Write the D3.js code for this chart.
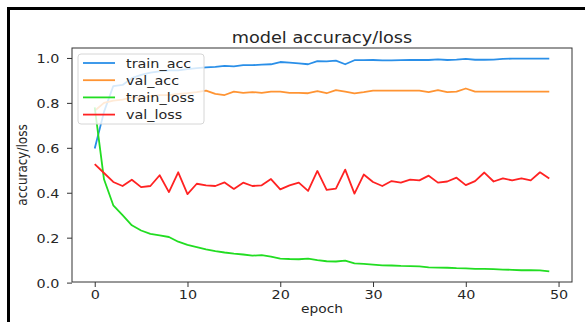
<!DOCTYPE html>
<html>
<head>
<meta charset="utf-8">
<script src="https://cdn.jsdelivr.net/npm/d3@7"></script>
<style>
body { margin: 0; background: #fff; }
text { font-family: "DejaVu Sans", sans-serif; fill: #262626; }
</style>
</head>
<body>
<script>
var seriesNames = ["train_acc", "val_acc", "train_loss", "val_loss"];
var seriesColors = ["#2a8fe8", "#ff9433", "#22dd22", "#ff2222"];

var trainAcc = [0.597, 0.76, 0.875, 0.88, 0.91, 0.925, 0.935, 0.94, 0.945, 0.945,
	0.95, 0.955, 0.958, 0.96, 0.965, 0.963, 0.968, 0.968, 0.97, 0.972,
	0.982, 0.979, 0.976, 0.972, 0.986, 0.985, 0.988, 0.972, 0.99, 0.99,
	0.991, 0.989, 0.989, 0.99, 0.991, 0.991, 0.991, 0.994, 0.991, 0.993,
	0.996, 0.992, 0.992, 0.993, 0.996, 0.997, 0.997, 0.997, 0.997, 0.997];
var valAcc = [0.765, 0.8, 0.81, 0.815, 0.825, 0.82, 0.83, 0.835, 0.835, 0.84,
	0.843, 0.848, 0.855, 0.84, 0.835, 0.85, 0.845, 0.848, 0.845, 0.85,
	0.85, 0.845, 0.845, 0.843, 0.852, 0.843, 0.857, 0.85, 0.842, 0.848,
	0.855, 0.855, 0.855, 0.855, 0.855, 0.855, 0.848, 0.857, 0.848, 0.85,
	0.864, 0.85, 0.85, 0.85, 0.85, 0.85, 0.85, 0.85, 0.85, 0.85];
var trainLoss = [0.78, 0.46, 0.344, 0.3, 0.255, 0.232, 0.217, 0.21, 0.203, 0.182,
	0.168, 0.158, 0.148, 0.14, 0.134, 0.129, 0.125, 0.12, 0.122, 0.116,
	0.107, 0.105, 0.104, 0.107, 0.1, 0.095, 0.094, 0.098, 0.086, 0.083,
	0.08, 0.077, 0.076, 0.074, 0.073, 0.072, 0.068, 0.067, 0.066, 0.064,
	0.063, 0.061, 0.061, 0.06, 0.058, 0.057, 0.055, 0.055, 0.054, 0.05];
var valLoss = [0.527, 0.488, 0.448, 0.43, 0.458, 0.425, 0.43, 0.478, 0.403, 0.491,
	0.394, 0.44, 0.433, 0.43, 0.446, 0.417, 0.445, 0.43, 0.433, 0.461,
	0.415, 0.433, 0.445, 0.408, 0.497, 0.413, 0.418, 0.503, 0.396, 0.481,
	0.448, 0.43, 0.452, 0.445, 0.458, 0.455, 0.476, 0.445, 0.45, 0.467,
	0.434, 0.452, 0.49, 0.45, 0.464, 0.455, 0.464, 0.455, 0.491, 0.463];

var xTicks = [0, 10, 20, 30, 40, 50];
var yTicks = [0.0, 0.2, 0.4, 0.6, 0.8, 1.0];

var allSeries = [trainAcc, valAcc, trainLoss, valLoss];

var w = 585;
var h = 322;
var plotL = 72, plotR = 572, plotT = 48, plotB = 282;
var sx = 1.15; // the picture is a bit stretched sideways

var svg = d3.select("body")
			.append("svg")
			.attr("width", w)
			.attr("height", h);

// outer black frame (only top and left show)
svg.append("line").attr("x1", 7).attr("x2", w).attr("y1", 8.5).attr("y2", 8.5)
	.attr("stroke", "#000").attr("stroke-width", 3);
svg.append("line").attr("x1", 8.5).attr("x2", 8.5).attr("y1", 7).attr("y2", h)
	.attr("stroke", "#000").attr("stroke-width", 3);

// matplotlib style 5% margins
var n = trainAcc.length;
var xPad = (n - 1) * 0.05;
var yMin = d3.min(allSeries, function(s){ return d3.min(s); });
var yMax = d3.max(allSeries, function(s){ return d3.max(s); });
var yPad = (yMax - yMin) * 0.05;

var xScale = d3.scaleLinear()
					.domain([-xPad, n - 1 + xPad])
					.range([plotL, plotR]);
var yScale = d3.scaleLinear()
					.domain([yMin - yPad, yMax + yPad])
					.range([plotB, plotT]);

var xAxis = d3.axisBottom(xScale).tickValues(xTicks).tickSize(5).tickFormat(d3.format("d"));
var yAxis = d3.axisLeft(yScale).tickValues(yTicks).tickSize(5).tickFormat(d3.format(".1f"));

var gx = svg.append("g")
	.attr("transform", "translate(0," + plotB + ")")
	.call(xAxis);
gx.select(".domain").remove();
gx.selectAll("line").attr("stroke", "#333");
gx.selectAll("text")
	.attr("y", 17.5).attr("dy", 0)
	.attr("font-size", "12.5px")
	.attr("font-family", "DejaVu Sans")
	.attr("fill", "#262626")
	.attr("transform", "scale(" + sx + ",1)");

var gy = svg.append("g")
	.attr("transform", "translate(" + plotL + ",0)")
	.call(yAxis);
gy.select(".domain").remove();
gy.selectAll("line").attr("stroke", "#333");
gy.selectAll("text")
	.attr("x", -11).attr("dy", "0.4em")
	.attr("font-size", "12.5px")
	.attr("font-family", "DejaVu Sans")
	.attr("fill", "#262626")
	.attr("transform", "scale(" + sx + ",1)");

// lines
var line = d3.line()
	.x(function(d, i){ return xScale(i); })
	.y(function(d){ return yScale(d); });

svg.selectAll("path.series")
	.data(allSeries)
	.enter()
	.append("path")
	.attr("class", "series")
	.attr("d", line)
	.attr("fill", "none")
	.attr("stroke", function(d, i){ return seriesColors[i]; })
	.attr("stroke-width", 1.8)
	.attr("stroke-linejoin", "round");

// axes frame
svg.append("rect")
	.attr("x", plotL).attr("y", plotT)
	.attr("width", plotR - plotL).attr("height", plotB - plotT)
	.attr("fill", "none")
	.attr("stroke", "#333")
	.attr("stroke-width", 1);

// title and labels
svg.append("text")
	.attr("transform", "translate(" + ((plotL + plotR) / 2) + ",43) scale(1.18,1)")
	.attr("text-anchor", "middle")
	.attr("font-size", "15px")
	.text("model accuracy/loss");

svg.append("text")
	.attr("transform", "translate(" + ((plotL + plotR) / 2) + ",313) scale(" + sx + ",1)")
	.attr("text-anchor", "middle")
	.attr("font-size", "12px")
	.text("epoch");

svg.append("text")
	.attr("transform", "translate(27," + ((plotT + plotB) / 2) + ") rotate(-90) scale(1," + sx + ")")
	.attr("text-anchor", "middle")
	.attr("font-size", "12px")
	.text("accuracy/loss");

// legend
var legend = svg.append("g").attr("transform", "translate(78,54)");
legend.append("rect")
	.attr("width", 126).attr("height", 70)
	.attr("rx", 3)
	.attr("fill", "#fff").attr("fill-opacity", 0.8)
	.attr("stroke", "#d6d6d6");

var item = legend.selectAll("g.item")
	.data(seriesNames)
	.enter()
	.append("g")
	.attr("class", "item")
	.attr("transform", function(d, i){ return "translate(0," + (9 + i * 17.2) + ")"; });
item.append("line")
	.attr("x1", 5).attr("x2", 37)
	.attr("stroke", function(d, i){ return seriesColors[i]; })
	.attr("stroke-width", 1.8);
item.append("text")
	.attr("transform", "translate(48,4.5) scale(" + sx + ",1)")
	.attr("font-size", "12.5px")
	.text(function(d){ return d; });
</script>
</body>
</html>
